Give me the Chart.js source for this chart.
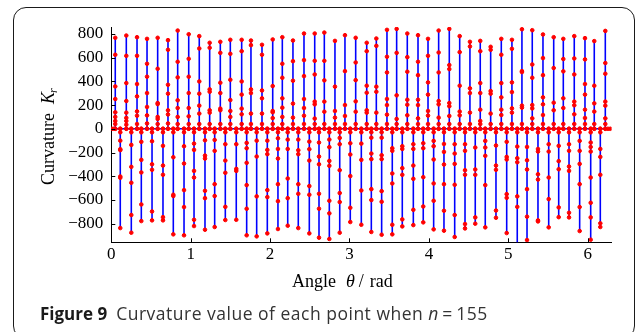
<!DOCTYPE html>
<html><head><meta charset="utf-8">
<script src="https://cdn.jsdelivr.net/npm/chart.js@4.4.0/dist/chart.umd.min.js"></script>
<style>
html,body{margin:0;padding:0;background:#fff;width:635px;height:332px;overflow:hidden;}
#frame{position:absolute;left:13px;top:7px;width:622px;height:332px;border:1.4px solid #1a1a1a;border-radius:13px;box-sizing:border-box;}
#wrap{position:absolute;left:0;top:0;width:635px;height:332px;}
#caption{position:absolute;left:40px;top:301px;font-family:'Open Sans';font-size:17.5px;letter-spacing:0.5px;color:#333;white-space:nowrap;}
#caption b{font-weight:700;font-size:17px;letter-spacing:0;margin-right:9px;color:#1a1a1a;}
#caption i{font-style:italic;}
</style></head>
<body>
<div id="frame"></div>
<div id="wrap"><canvas id="c" width="635" height="332"></canvas></div>
<div id="caption"><b>Figure 9</b>Curvature value of each point when <i>n</i>&#8201;=&#8201;155</div>
<script>
// ---- data ----
const xTicks = [0, 1, 2, 3, 4, 5, 6];
const yTicks = [-800, -600, -400, -200, 0, 200, 400, 600, 800];
const leadX = [0, 0.025];
const tailX = [6.255, 6.285];
const posX = [0.050,0.189,0.324,0.450,0.584,0.714,0.836,0.975,1.108,1.239,1.373,1.499,
  1.642,1.759,1.898,2.033,2.154,2.288,2.427,2.562,2.683,2.817,2.943,3.078,
  3.217,3.338,3.472,3.594,3.728,3.863,3.989,4.123,4.257,4.388,4.517,4.647,4.778,
  4.912,5.046,5.172,5.302,5.437,5.572,5.693,5.831,5.966,6.083,6.222];
const posPeak = [767,786,772,758,767,747,828,797,781,725,733,750,
  750,744,708,753,772,744,803,803,811,741,789,767,
  725,761,834,842,803,789,758,828,842,781,733,741,691,
  758,750,839,831,795,772,758,781,764,739,825];
const posDots = [
  [40,66,100,139,251,357,624],[35,66,92,136,234,385,615],[40,110,147,273,377,615],[45,113,184,301,439,548],
  [40,83,100,208,217,506],[45,121,156,296,371,666],[40,100,175,240,433,565],[40,105,175,301,439,590],
  [40,128,195,296,399,677],[40,136,156,312,332,683],[40,156,170,301,388,640],[40,100,150,242,413,632],
  [40,122,170,288,399,654],[40,128,301,332,705],[40,128,257,323,624],[40,90,139,150,360],
  [40,100,178,257,430,548],[40,94,212,405,570],[40,110,175,251,444,579],[40,86,206,229,458,573],
  [40,144,229,408,573],[40,94,150,355],[40,108,200,486],[40,144,231,410,559],
  [40,136,156,304,363,654],[40,136,312,355,699],[40,119,200,251,475,607],[40,83,282,640],
  [40,114,203,245,481,604],[40,88,200,245,452,565],[40,111,150,288,391,615],[40,94,206,234,475,643],
  [40,108,190,217,503,537],[40,113,145,363,646],[40,136,301,341,694],[40,66,161,301,385,654],
  [40,128,296,318,666],[40,116,161,265,385,624],[40,136,172,309,391,674],[40,178,195,478,486],
  [40,88,172,200,430,542],[40,116,206,265,452,596],[40,156,220,512],[40,175,257,484,588],
  [40,122,198,229,458,593],[40,91,161,288,377,585],[40,145,214,363],[40,88,195,229,464,554]];
const negX = [0.113,0.252,0.378,0.513,0.651,0.781,0.916,1.042,1.180,1.302,1.436,1.574,
  1.705,1.831,1.965,2.099,2.222,2.355,2.494,2.616,2.746,2.877,3.010,3.149,
  3.275,3.405,3.539,3.665,3.804,3.929,4.060,4.190,4.325,4.455,4.584,4.710,
  4.845,4.980,5.113,5.236,5.374,5.509,5.635,5.765,5.899,6.038,6.159];
const negPeak = [-837,-876,-778,-772,-772,-890,-898,-820,-851,-828,-769,-767,
  -898,-907,-882,-845,-817,-837,-882,-918,-929,-876,-786,-809,
  -870,-893,-890,-823,-812,-789,-848,-859,-912,-840,-800,-831,
  -750,-879,-980,-938,-781,-831,-745,-747,-862,-935,-828];
const negDots = [
  [-30,-100,-172,-180,-402,-413],[-30,-136,-321,-455,-727],[-30,-110,-262,-368,-638],[-30,-105,-299,-346,-697],
  [-30,-144,-310,-388,-745],[-30,-240,-556,-567],[-30,-147,-293,-517,-660],[-30,-125,-178,-355,-411,-767],
  [-30,-97,-226,-251,-523,-585],[-30,-94,-186,-467,-567],[-30,-130,-268,-371,-658],[-30,-130,-338,-355],
  [-30,-119,-164,-287,-475,-674],[-30,-100,-234,-570],[-30,-100,-178,-214,-517,-576],[-30,-80,-170,-251,-467,-610],
  [-30,-91,-170,-419,-585],[-30,-91,-181,-214,-467,-548],[-30,-108,-172,-268,-483,-556],[-30,-116,-234,-299,-548,-674],
  [-30,-91,-155,-271,-312,-607,-713],[-30,-77,-130,-349,-542,-618],[-30,-122,-217,-399,-666],[-30,-125,-262,-520],
  [-30,-75,-209,-256,-509,-601],[-30,-75,-223,-256,-526,-615],[-30,-164,-186,-377,-461,-809],[-30,-147,-170,-332,-388,-764],
  [-30,-130,-170,-310,-422,-683],[-30,-122,-164,-408,-655],[-30,-102,-147,-259,-461,-607],[-30,-128,-195,-301,-467,-691],
  [-30,-130,-209,-296,-472,-727],[-30,-130,-186,-349,-388,-803],[-30,-158,-343,-388,-747],[-30,-102,-158,-228,-475],
  [-30,-141,-310,-346,-689],[-30,-110,-237,-259,-551,-582],[-30,-150,-248,-282,-570,-658],[-30,-153,-265,-343,-509,-741],
  [-30,-170,-192,-383,-428,-772],[-30,-130,-192,-411,-593],[-30,-144,-273,-341,-663],[-30,-130,-186,-318,-355,-708],
  [-30,-102,-186,-296,-467,-660],[-30,-116,-153,-192,-411,-624,-747],[-30,-170,-237,-388,-797]];

// ---- build the point sequence ----
const pts = [];
leadX.forEach(x => pts.push({x: x, y: 0}));
function addSpike(x, dots, peak) {
  pts.push({x: x, y: 0});
  dots.forEach(v => pts.push({x: x, y: v}));
  pts.push({x: x, y: peak});
  pts.push({x: x, y: 0});
}
for (let i = 0; i < posX.length; i++) {
  addSpike(posX[i], posDots[i], posPeak[i]);
  if (i < negX.length) addSpike(negX[i], negDots[i], negPeak[i]);
}
tailX.forEach(x => pts.push({x: x, y: 0}));

const serif = "'Liberation Serif', 'Times New Roman', serif";

const decor = {
  id: 'decor',
  afterDraw(chart) {
    const ctx = chart.ctx, a = chart.chartArea;
    const sx = chart.scales.x, sy = chart.scales.y;
    ctx.save();
    ctx.strokeStyle = '#000'; ctx.lineWidth = 1;
    sx.ticks.forEach(t => {
      const px = Math.round(sx.getPixelForValue(t.value)) + 0.5;
      ctx.beginPath(); ctx.moveTo(px, a.bottom); ctx.lineTo(px, a.bottom - 4); ctx.stroke();
    });
    sy.ticks.forEach(t => {
      const py = Math.round(sy.getPixelForValue(t.value)) + 0.5;
      ctx.beginPath(); ctx.moveTo(a.left, py); ctx.lineTo(a.left + 4, py); ctx.stroke();
    });
    ctx.fillStyle = '#000';
    ctx.textBaseline = 'alphabetic';
    ctx.textAlign = 'left';
    // x title
    let x = 292; const yb = 287;
    const parts = [['Angle', '', 0], ['\u03B8', 'italic ', 10], ['/', '', 4], ['rad', '', 6]];
    parts.forEach(p => {
      x += p[2];
      ctx.font = p[1] + '18px ' + serif;
      ctx.fillText(p[0], x, yb);
      x += ctx.measureText(p[0]).width;
    });
    // y title (rotated)
    ctx.translate(54, 185);
    ctx.rotate(-Math.PI / 2);
    let ty = 0;
    ctx.font = '18px ' + serif;
    ctx.fillText('Curvature', ty, 0);
    ty += ctx.measureText('Curvature').width + 9;
    ctx.font = 'italic 18px ' + serif;
    ctx.fillText('K', ty, 0);
    ty += ctx.measureText('K').width - 1;
    ctx.font = 'italic 12px ' + serif;
    ctx.fillText('r', ty, 3);
    ctx.restore();
  }
};

new Chart(document.getElementById('c'), {
  type: 'line',
  data: {
    datasets: [{
      data: pts,
      borderColor: '#0000ff',
      borderWidth: 1.6,
      pointRadius: 1.8,
      pointBorderWidth: 1,
      pointBackgroundColor: '#ff0000',
      pointBorderColor: '#ff0000',
      tension: 0,
      fill: false
    }]
  },
  options: {
    responsive: false,
    animation: false,
    events: [],
    layout: {padding: {left: 0, top: 27, right: 23.5, bottom: 0}},
    plugins: {legend: {display: false}, tooltip: {enabled: false}},
    scales: {
      x: {
        type: 'linear', min: 0, max: 6.3,
        afterBuildTicks: s => { s.ticks = xTicks.map(v => ({value: v})); },
        afterFit: s => { s.height = 89.7; },
        grid: {display: true, drawOnChartArea: false, drawTicks: false},
        border: {display: true, color: '#000', width: 1},
        ticks: {color: '#000', font: {family: serif, size: 17}, padding: 2, maxRotation: 0, autoSkip: false}
      },
      y: {
        type: 'linear', min: -957, max: 858,
        afterBuildTicks: s => { s.ticks = yTicks.map(v => ({value: v})); },
        afterFit: s => { s.width = 111.3; },
        grid: {display: true, drawOnChartArea: false, drawTicks: false},
        border: {display: true, color: '#000', width: 1},
        ticks: {color: '#000', font: {family: serif, size: 17}, padding: 8, autoSkip: false,
          callback: v => v < 0 ? '\u2212' + Math.abs(v) : String(v)}
      }
    }
  },
  plugins: [decor]
});
</script>
</body></html>
